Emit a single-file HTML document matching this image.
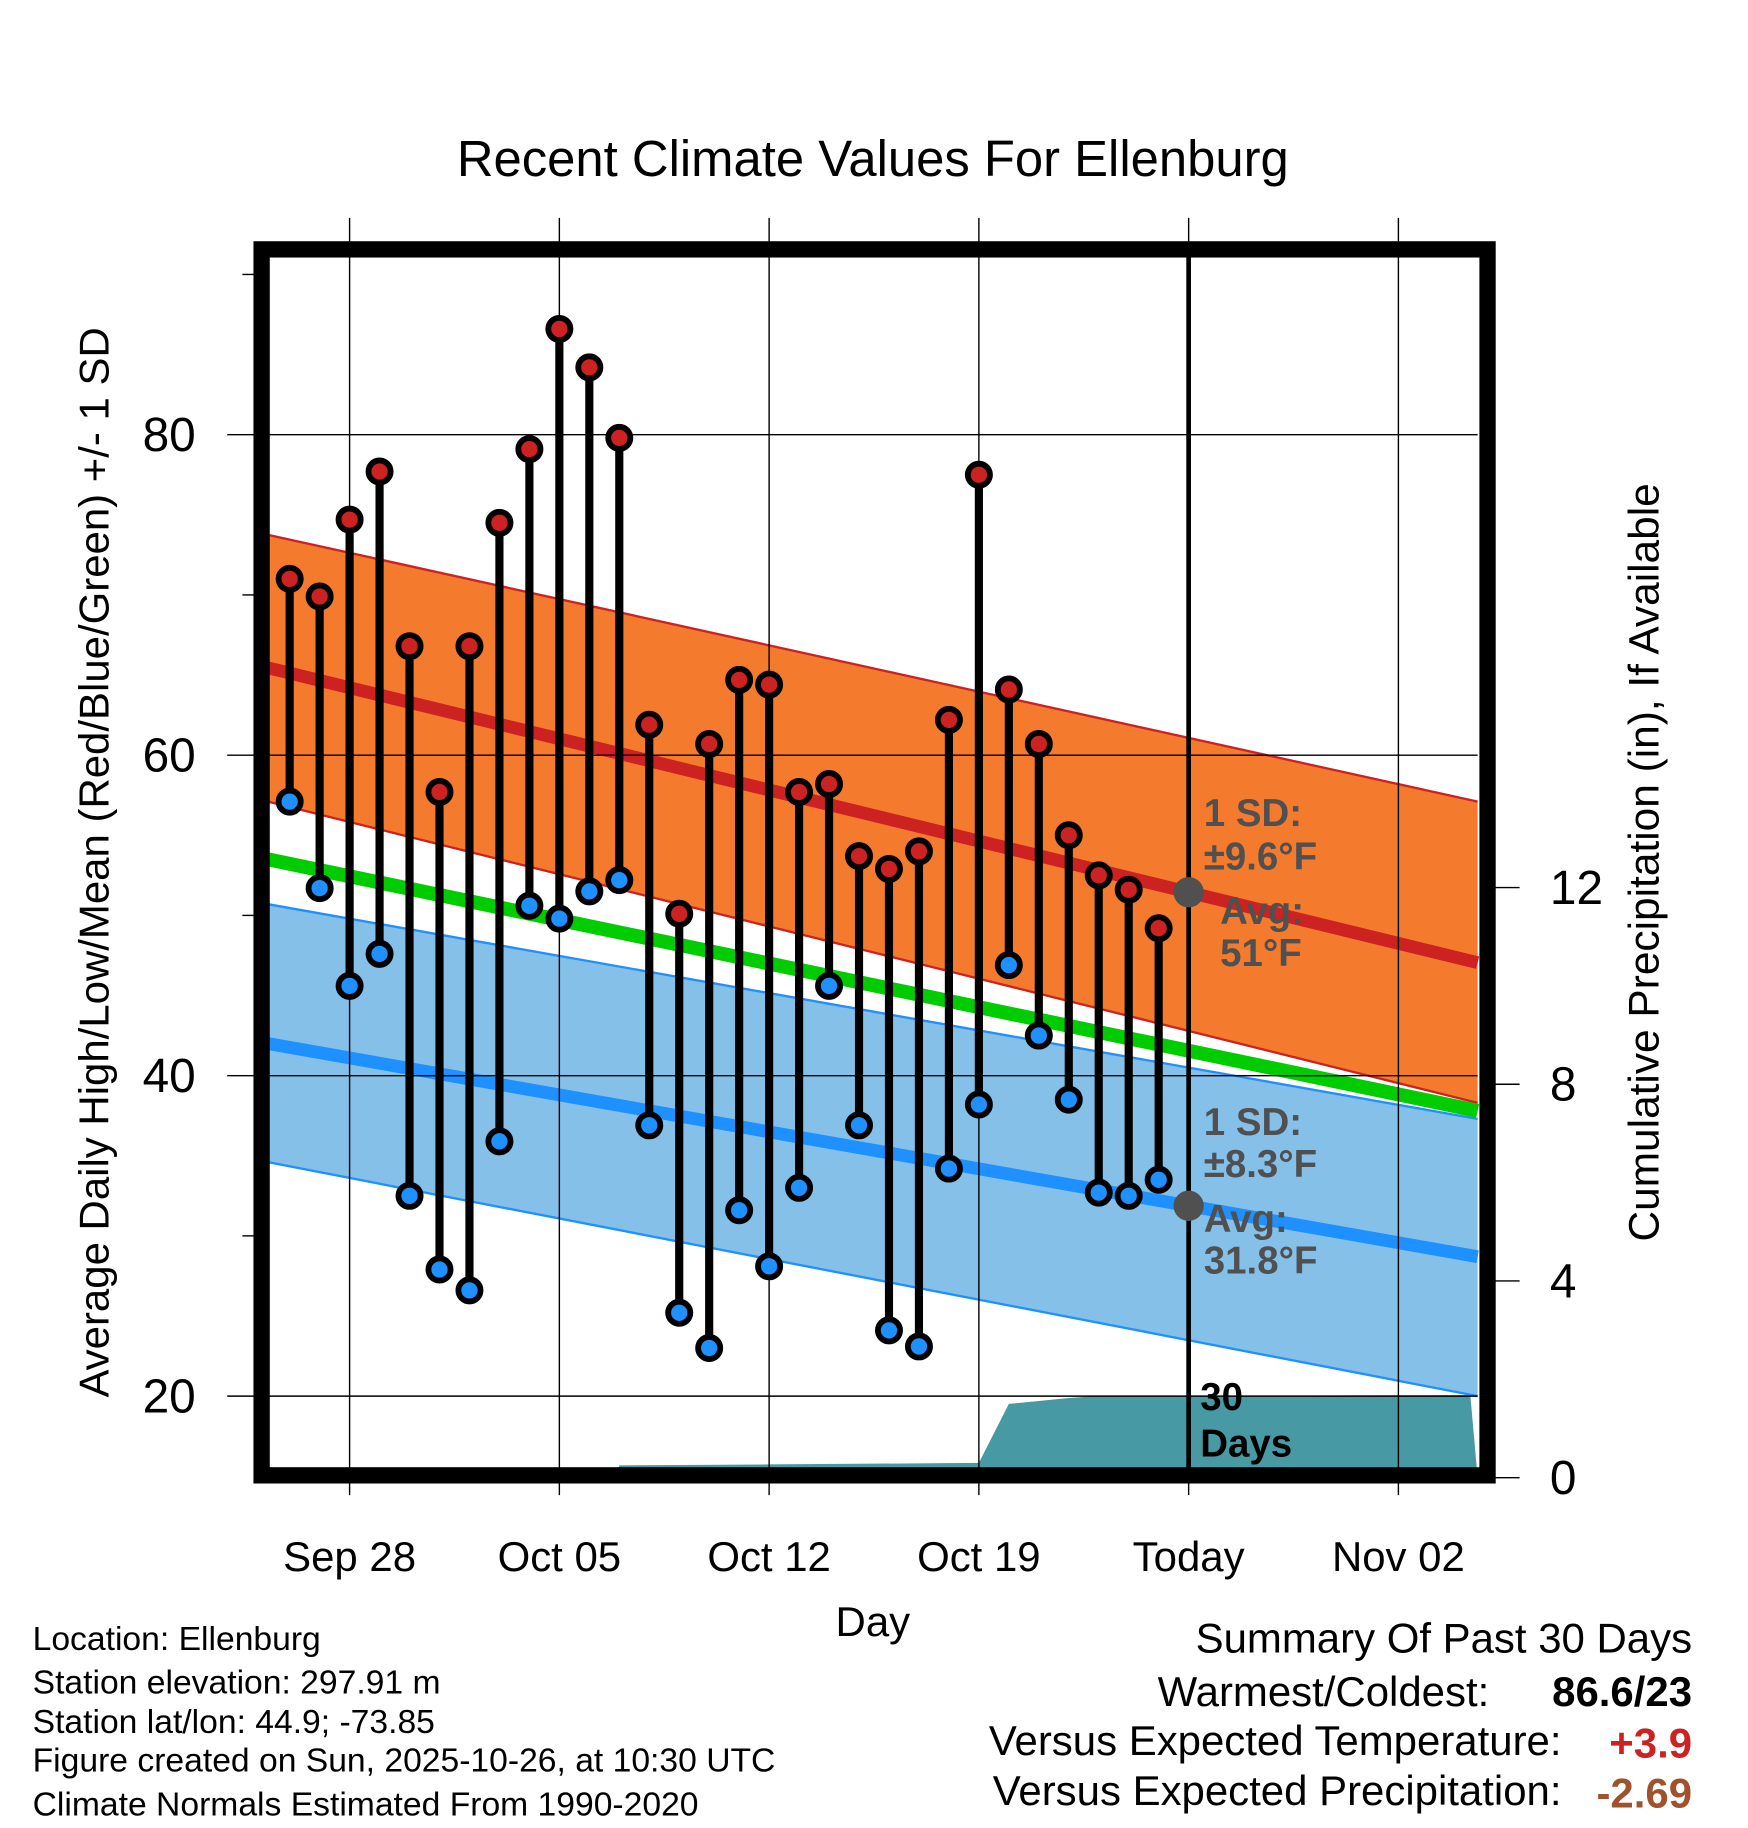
<!DOCTYPE html>
<html><head><meta charset="utf-8"><style>html,body{margin:0;padding:0;background:#fff}svg{display:block}text{font-family:"Liberation Sans",Arial,sans-serif}</style></head>
<body>
<svg id="chart" width="1748" height="1828" viewBox="0 0 1500 1568.6" preserveAspectRatio="none" xmlns="http://www.w3.org/2000/svg">
<g id="layers"></g>
</svg>
<script>
// ---- data ----
const highs=[71.0,69.9,74.7,77.7,66.8,57.7,66.8,74.5,79.1,86.6,84.2,79.8,61.9,50.1,60.7,64.7,64.4,57.7,58.2,53.7,52.9,54.0,62.2,77.5,64.1,60.7,55.0,52.5,51.6,49.2];
const lows=[57.1,51.7,45.6,47.6,32.5,27.9,26.6,35.9,50.6,49.8,51.5,52.2,36.9,25.2,23.0,31.6,28.1,33.0,45.6,36.9,24.1,23.1,34.2,38.2,46.9,42.5,38.5,32.7,32.5,33.5];
const normHighTop=[73.75,57.1];
const normHighMean=[65.45,47.05];
const normHighBot=[57.1,38.3];
const normMid=[53.5,37.8];
const normLowTop=[50.7,37.3];
const normLowMean=[42.0,28.7];
const normLowBot=[34.6,20.0];
const precipDays=[-2.72,8.9,9,14,21,22,24,25,37.4];
const precipVals=[0,0,0.25,0.27,0.3,1.5,1.62,1.66,1.68];
const xTickDays=[0,7,14,21,28,35];
const xTickLabels=["Sep 28","Oct 05","Oct 12","Oct 19","Today","Nov 02"];
const yTicks=[20,40,60,80];
const yMinor=[30,50,70,90];
const pTicks=[0,4,8,12];
const todayDay=28;
const firstDay=-2;

// ---- axes ----
const X=d=>300+d*(180/7);
const Y=t=>1198-(t-20)*13.75;
const P=p=>1268-p*42.2;
const NS="http://www.w3.org/2000/svg";
const root=document.getElementById('layers');
function mk(tag,attrs,parent){const e=document.createElementNS(NS,tag);for(const k in attrs)e.setAttribute(k,attrs[k]);(parent||root).appendChild(e);return e;}
function txt(s,attrs){const e=mk('text',attrs);e.textContent=s;return e;}
const xl=230,xr=1268;
function lerpLine(arr){return [[xl,Y(arr[0])],[xr,Y(arr[1])]];}
function band(top,bot,fill,name){
 const e=mk('polygon',{points:`${xl},${Y(top[0])} ${xr},${Y(top[1])} ${xr},${Y(bot[1])} ${xl},${Y(bot[0])}`,fill:fill});
 
 
}
function line(arr,color,w,name){
 const p=lerpLine(arr);
 const e=mk('line',{x1:p[0][0],y1:p[0][1],x2:p[1][0],y2:p[1][1],stroke:color,'stroke-width':w});
 
 
}
band(normHighTop,normHighBot,'#f47a2e','high-sd-band');
band(normLowTop,normLowBot,'#84c0e8','low-sd-band');
line(normHighTop,'#cc2222',2,'high-band-top');
line(normHighBot,'#cc2222',2,'high-band-bottom');
line(normLowTop,'#1e90ff',2,'low-band-top');
line(normLowBot,'#1e90ff',2,'low-band-bottom');
line(normMid,'#00cc00',12,'normal-mean-line');
line(normHighMean,'#cc2222',11,'normal-high-line');
line(normLowMean,'#1e90ff',11,'normal-low-line');
// precip
let pts=precipDays.map((d,i)=>`${Math.min(xr,Math.max(xl,X(d)))},${P(precipVals[i])}`).join(' ');
const pp=mk('polygon',{points:`${xl},1268 ${pts} ${xr},1268`,fill:'#4799a3'});


// grid
xTickDays.forEach((d,i)=>{
 const g=mk('line',{x1:X(d),y1:187,x2:X(d),y2:1283,stroke:'#000','stroke-width':1.2});
 
 
 const t=txt(xTickLabels[i],{x:X(d),y:1348,'font-size':36,'text-anchor':'middle',fill:'#000'});
 
 
});
yTicks.forEach(v=>{
 const g=mk('line',{x1:195,y1:Y(v),x2:xr,y2:Y(v),stroke:'#000','stroke-width':1.2});
 
 
 const t=txt(String(v),{x:168,y:Y(v)+14,'font-size':41,'text-anchor':'end',fill:'#000'});
 
 
});
yMinor.forEach(v=>{
 const g=mk('line',{x1:208,y1:Y(v),x2:220,y2:Y(v),stroke:'#000','stroke-width':1.2});
 
 
});
pTicks.forEach(v=>{
 const g=mk('line',{x1:1280,y1:P(v),x2:1304,y2:P(v),stroke:'#000','stroke-width':1.2});
 
 
 const t=txt(String(v),{x:1330,y:P(v)+14,'font-size':41,'text-anchor':'start',fill:'#000'});
 
 
});
// today line
const tl=mk('line',{x1:X(todayDay),y1:218,x2:X(todayDay),y2:1262,stroke:'#000','stroke-width':4});


// daily stems and markers
highs.forEach((h,i)=>{
 const x=X(firstDay+i);
 const s=mk('line',{x1:x,y1:Y(h),x2:x,y2:Y(lows[i]),stroke:'#000','stroke-width':7});
 
 
});
highs.forEach((h,i)=>{
 const x=X(firstDay+i);
 const c1=mk('circle',{cx:x,cy:Y(h),r:9.5,fill:'#cc2222',stroke:'#000','stroke-width':5});
 
 
 const c2=mk('circle',{cx:x,cy:Y(lows[i]),r:9.5,fill:'#1e90ff',stroke:'#000','stroke-width':5});
 
 
});
// today avg points
const tdFrac=(X(todayDay)-xl)/(xr-xl);
[[normHighMean,'today-high-normal-dot'],[normLowMean,'today-low-normal-dot']].forEach(([a,n])=>{
 const v=a[0]+(a[1]-a[0])*tdFrac;
 const c=mk('circle',{cx:X(todayDay),cy:Y(v),r:13,fill:'#505050'});
 
 
});
// frame
const fr=mk('rect',{x:224.5,y:214,width:1052,height:1052,fill:'none',stroke:'#000','stroke-width':14});


</script>
<script>
(function(){
const NS="http://www.w3.org/2000/svg";
const svg=document.getElementById('chart');
function t(s,a,name,bold){const e=document.createElementNS(NS,'text');for(const k in a)e.setAttribute(k,a[k]);if(bold)e.setAttribute('font-weight','bold');e.textContent=s;


svg.appendChild(e);return e;}
t('Recent Climate Values For Ellenburg',{x:749,y:151,'font-size':43.6,'text-anchor':'middle'},'chart-title');
t('Day',{x:749,y:1404,'font-size':36,'text-anchor':'middle'},'x-axis-title');
t('Average Daily High/Low/Mean (Red/Blue/Green) +/- 1 SD',{x:0,y:0,'font-size':36,'text-anchor':'middle',transform:'translate(93,740) rotate(-90)'},'y-axis-title');
t('Cumulative Precipitation (in), If Available',{x:0,y:0,'font-size':36.4,'text-anchor':'middle',transform:'translate(1423,740) rotate(-90)'},'precip-axis-title');
const g={fill:'#505050','font-size':33};
t('1 SD:',Object.assign({x:1033,y:709},g),'high-sd-label',1);
t('±9.6°F',Object.assign({x:1033,y:746},g),'high-sd-value',1);
t('Avg:',Object.assign({x:1047,y:793},g),'high-avg-label',1);
t('51°F',Object.assign({x:1047,y:829},g),'high-avg-value',1);
t('1 SD:',Object.assign({x:1033,y:974},g),'low-sd-label',1);
t('±8.3°F',Object.assign({x:1033,y:1010},g),'low-sd-value',1);
t('Avg:',Object.assign({x:1033,y:1057},g),'low-avg-label',1);
t('31.8°F',Object.assign({x:1033,y:1093},g),'low-avg-value',1);
t('30',{x:1030,y:1210,'font-size':33},'days-count',1);
t('Days',{x:1030,y:1250,'font-size':33},'days-label',1);
const info=['Location: Ellenburg','Station elevation: 297.91 m','Station lat/lon: 44.9; -73.85','Figure created on Sun, 2025-10-26, at 10:30 UTC','Climate Normals Estimated From 1990-2020'];
const ib=[1416,1453,1487,1520,1558];
info.forEach((s,i)=>t(s,{x:28,y:ib[i],'font-size':28.9},'station-info-line'));
t('Summary Of Past 30 Days',{x:1452,y:1418,'font-size':36,'text-anchor':'end'},'summary-title');
t('Warmest/Coldest:',{x:1278,y:1464,'font-size':36,'text-anchor':'end'},'warmest-coldest-label');
t('86.6/23',{x:1452,y:1464,'font-size':36,'text-anchor':'end'},'warmest-coldest-value',1);
t('Versus Expected Temperature:',{x:1340,y:1506,'font-size':36,'text-anchor':'end'},'temp-anomaly-label');
t('+3.9',{x:1452,y:1508,'font-size':36,'text-anchor':'end',fill:'#cc2222'},'temp-anomaly-value',1);
t('Versus Expected Precipitation:',{x:1340,y:1549,'font-size':36,'text-anchor':'end'},'precip-anomaly-label');
t('-2.69',{x:1452,y:1551,'font-size':36,'text-anchor':'end',fill:'#a0522d'},'precip-anomaly-value',1);
})();
</script>
</body></html>
